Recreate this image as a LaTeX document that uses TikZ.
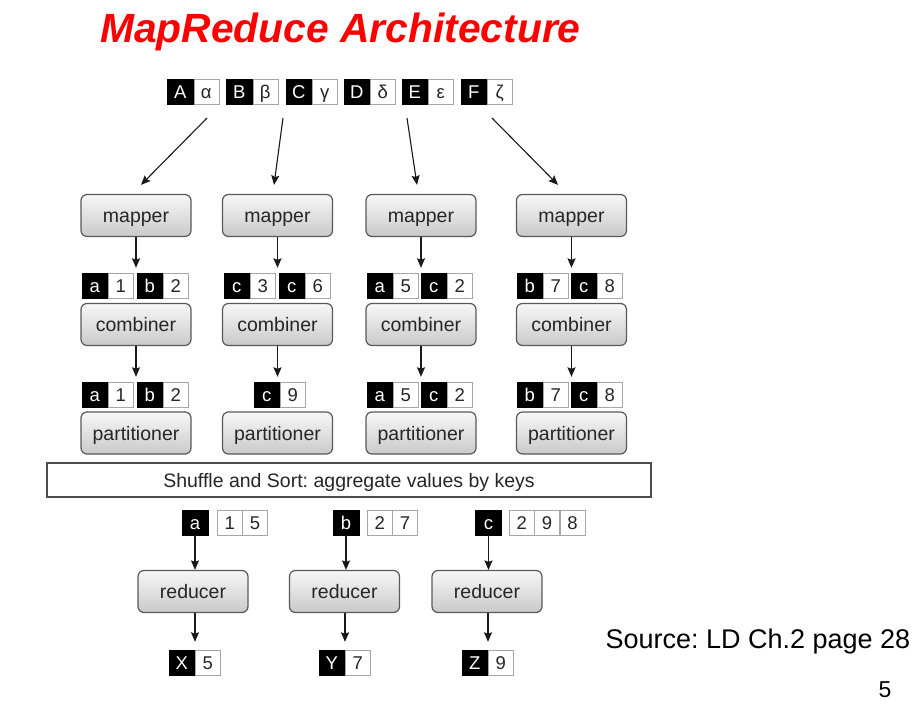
\documentclass[tikz,border=0pt]{standalone}
\usepackage{fontspec}
\setmainfont{Liberation Sans}
\usetikzlibrary{arrows,arrows.meta,positioning,calc}
\frenchspacing

% key/value pair: name, point between the two cells, key, value
\newcommand{\kv}[4]{%
  \node[keycell,anchor=east] at (#2) (#1k) {#3};
  \node[valcell,anchor=west] at (#2) (#1v) {#4};}

\begin{document}
\begin{tikzpicture}[x=1pt,y=-1pt,>={Stealth[length=9.5pt,width=8pt,inset=1.5pt]},
        stage/.style={draw=black!65,line width=1.2pt,rounded corners=6pt,top color=gray!6,bottom color=gray!42,
          minimum width=110pt,minimum height=42pt,inner sep=0pt,text height=14pt,text depth=0pt,
          text=black!85,font=\fontsize{19.5}{22}\selectfont},
        keycell/.style={draw=black,fill=black,text=white,minimum width=26pt,minimum height=25pt,inner sep=0pt,
          text height=13.3pt,text depth=0pt,font=\fontsize{18.5}{20}\selectfont},
        valcell/.style={draw=gray!70,fill=white,text=black!85,minimum width=25pt,minimum height=25pt,inner sep=0pt,
          text height=13.3pt,text depth=0pt,font=\fontsize{18.5}{20}\selectfont},
        flow/.style={->,line width=1.1pt,black!90}]
  \useasboundingbox (0,0) rectangle (918,706);
  \node[anchor=base west,text=red,font=\fontsize{40.8}{48}\bfseries\itshape\selectfont] at (96.5,43) (title) {MapReduce Architecture};

  % input splits
  \kv{s1}{193.5,91.5}{A}{α}
  \kv{s2}{252.5,91.5}{B}{β}
  \kv{s3}{312,91.5}{C}{γ}
  \kv{s4}{370,91.5}{D}{δ}
  \kv{s5}{428,91.5}{E}{ε}
  \kv{s6}{487,91.5}{F}{ζ}
  \coordinate (in1) at (207,118);
  \coordinate (in2) at (283,118);
  \coordinate (in3) at (407,118);
  \coordinate (in4) at (492,118);

  % map side
  \node[stage] at (136,215.5) (m1) {mapper};
  \node[stage] at (277.5,215.5) (m2) {mapper};
  \node[stage] at (421,215.5) (m3) {mapper};
  \node[stage] at (571.5,215.5) (m4) {mapper};
  \kv{a1}{108,285.5}{a}{1}
  \kv{a2}{163,285.5}{b}{2}
  \kv{b1}{250,285.5}{c}{3}
  \kv{b2}{305,285.5}{c}{6}
  \kv{c1}{393,285.5}{a}{5}
  \kv{c2}{447,285.5}{c}{2}
  \kv{d1}{543,285.5}{b}{7}
  \kv{d2}{597,285.5}{c}{8}
  \node[stage] at (136,324.5) (cb1) {combiner};
  \node[stage] at (277.5,324.5) (cb2) {combiner};
  \node[stage] at (421,324.5) (cb3) {combiner};
  \node[stage] at (571.5,324.5) (cb4) {combiner};
  \kv{e1}{108,394.5}{a}{1}
  \kv{e2}{163,394.5}{b}{2}
  \kv{f1}{280,394.5}{c}{9}
  \kv{g1}{393,394.5}{a}{5}
  \kv{g2}{447,394.5}{c}{2}
  \kv{h1}{543,394.5}{b}{7}
  \kv{h2}{597,394.5}{c}{8}
  \node[stage] at (136,433) (p1) {partitioner};
  \node[stage] at (277.5,433) (p2) {partitioner};
  \node[stage] at (421,433) (p3) {partitioner};
  \node[stage] at (571.5,433) (p4) {partitioner};

  \node[draw=black!70,line width=1.2pt,minimum width=604pt,minimum height=34pt,inner sep=0pt,
    text height=14pt,text depth=0pt,text=black!85,font=\fontsize{19.5}{22}\selectfont]
    at (349,480) (shuffle) {Shuffle and Sort: aggregate values by keys};

  % reduce side
  \node[keycell] at (195,522.5) (ka) {a};
  \node[valcell,anchor=west] at (217,522.5) (va1) {1};
  \node[valcell,right=0pt of va1] (va2) {5};
  \node[keycell] at (346,522.5) (kb) {b};
  \node[valcell,anchor=west] at (367,522.5) (vb1) {2};
  \node[valcell,right=0pt of vb1] (vb2) {7};
  \node[keycell] at (488.5,522.5) (kc) {c};
  \node[valcell,anchor=west] at (509,522.5) (vc1) {2};
  \node[valcell,right=0pt of vc1] (vc2) {9};
  \node[valcell,right=0pt of vc2] (vc3) {8};
  \node[stage] at (193,591.5) (r1) {reducer};
  \node[stage] at (344.5,591.5) (r2) {reducer};
  \node[stage] at (487,591.5) (r3) {reducer};
  \kv{x}{195,662.5}{X}{5}
  \kv{y}{345,662.5}{Y}{7}
  \kv{z}{488,662.5}{Z}{9}

  \node[anchor=base west,font=\fontsize{27}{30}\selectfont] at (602,648) (src) {Source: LD Ch.2 page 28};
  \node[anchor=base east,font=\fontsize{23}{26}\selectfont] at (895,697) (pg) {5};

  % connectors
  \draw[flow] (in1) -- ([shift={(5,-9)}]m1.north);
  \draw[flow] (in2) -- ([shift={(-3.5,-9)}]m2.north);
  \draw[flow] (in3) -- ([shift={(-4,-9)}]m3.north);
  \draw[flow] (in4) -- ([shift={(-13.5,-9)}]m4.north);
  \draw[flow,shorten >=5pt] (m1.south) -- (m1.south |- a1k.north);
  \draw[flow,shorten >=5pt] (m2.south) -- (m2.south |- b1k.north);
  \draw[flow,shorten >=5pt] (m3.south) -- (m3.south |- c1k.north);
  \draw[flow,shorten >=5pt] (m4.south) -- (m4.south |- d1k.north);
  \draw[flow,shorten >=5pt] (cb1.south) -- (cb1.south |- e1k.north);
  \draw[flow,shorten >=5pt] (cb2.south) -- (cb2.south |- f1k.north);
  \draw[flow,shorten >=5pt] (cb3.south) -- (cb3.south |- g1k.north);
  \draw[flow,shorten >=5pt] (cb4.south) -- (cb4.south |- h1k.north);
  \draw[flow] (ka.south) -- (ka.south |- r1.north);
  \draw[flow] (kb.south) -- (kb.south |- r2.north);
  \draw[flow] (kc.south) -- (kc.south |- r3.north);
  \draw[flow,shorten >=8pt] (r1.south -| xk.east) -- (xk.north east);
  \draw[flow,shorten >=8pt] (r2.south -| yk.east) -- (yk.north east);
  \draw[flow,shorten >=8pt] (r3.south -| zk.east) -- (zk.north east);
\end{tikzpicture}
\end{document}
